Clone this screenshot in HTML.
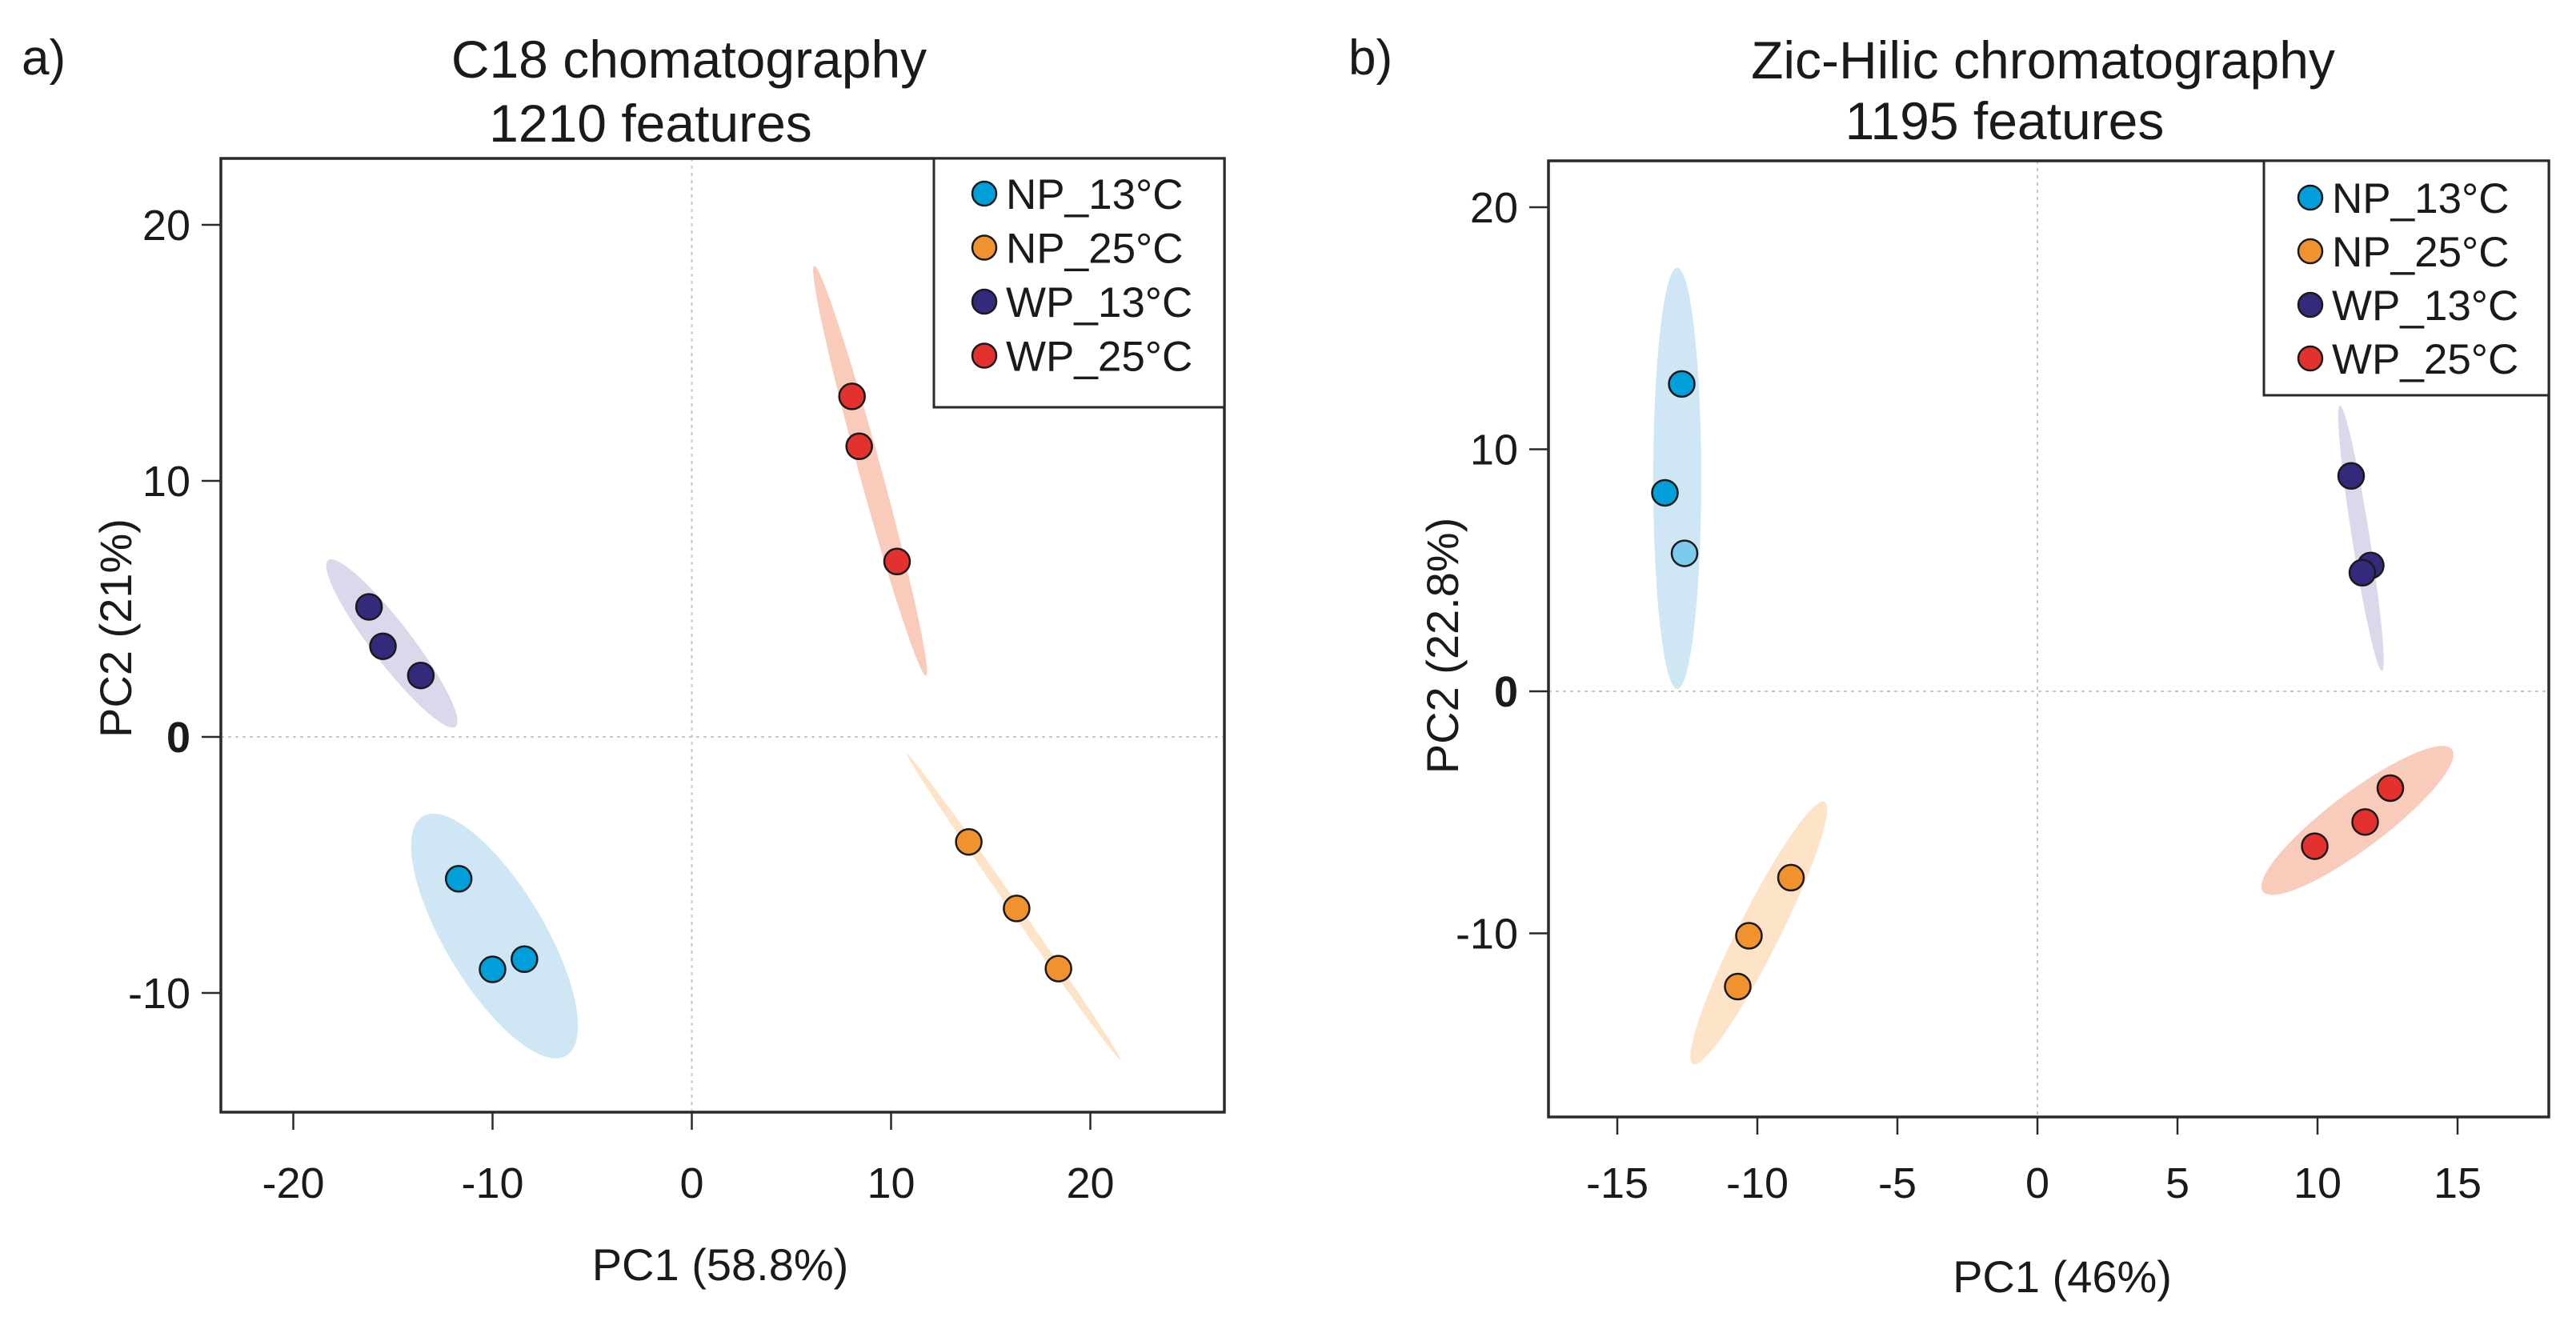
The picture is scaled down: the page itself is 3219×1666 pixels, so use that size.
<!DOCTYPE html>
<html><head><meta charset="utf-8"><style>
html,body{margin:0;padding:0;background:#fff;}
svg{display:block;font-family:"Liberation Sans",Arial,sans-serif;}
</style></head>
<body>
<svg id="fig" width="3219" height="1666" viewBox="0 0 3219 1666" xmlns="http://www.w3.org/2000/svg"></svg>
<script>
// ---- Data: panel a (C18) ----
const groups = ["NP_13°C","NP_25°C","WP_13°C","WP_25°C"];
const aNP13x = [-11.7, -10.0, -8.4];   const aNP13y = [-5.54, -9.08, -8.68];
const aNP25x = [13.9, 16.3, 18.4];     const aNP25y = [-4.1, -6.7, -9.05];
const aWP13x = [-16.2, -15.5, -13.6];  const aWP13y = [5.08, 3.54, 2.4];
const aWP25x = [8.04, 8.4, 10.3];      const aWP25y = [13.3, 11.35, 6.85];
// ellipse major-axis endpoints (data units): x1,y1,x2,y2
const aEllNP13 = [-13.5, -3.1, -6.3, -12.45];
const aEllNP25 = [10.8, -0.67, 21.5, -12.6];
const aEllWP13 = [-18.25, 6.9, -11.86, 0.4];
const aEllWP25 = [6.14, 18.4, 11.75, 2.4];
const aXTicks = [-20, -10, 0, 10, 20];
const aYTicks = [-10, 0, 10, 20];
// ---- Data: panel b (Zic-Hilic) ----
const bNP13x = [-12.7, -13.3, -12.6];  const bNP13y = [12.7, 8.2, 5.7];
const bNP25x = [-8.8, -10.3, -10.7];   const bNP25y = [-7.7, -10.1, -12.2];
const bWP13x = [11.2, 11.9, 11.6];     const bWP13y = [8.9, 5.2, 4.9];
const bWP25x = [12.6, 11.7, 9.9];      const bWP25y = [-4.0, -5.4, -6.4];
const bEllNP13 = [-12.86, 17.5, -12.86, 0.1];
const bEllNP25 = [-7.6, -4.56, -12.3, -15.4];
const bEllWP13 = [10.8, 11.8, 12.3, 0.84];
const bEllWP25 = [14.8, -2.4, 8.05, -8.27];
const bXTicks = [-15, -10, -5, 0, 5, 10, 15];
const bYTicks = [-10, 0, 10, 20];

const colors = ["#009fda","#f0922e","#332a7c","#e3312d"];
const fills  = ["#cfe7f5","#fde3c8","#dcd7ea","#f9cbbb"];
const NS = "http://www.w3.org/2000/svg";
const svg = document.getElementById("fig");
function mk(tag, attrs, parent, text){
  const e = document.createElementNS(NS, tag);
  for (const k in attrs) e.setAttribute(k, attrs[k]);
  if (text !== undefined) e.textContent = text;
  (parent||svg).appendChild(e);
  return e;
}

function panel(cfg){
  const g = mk("g", {});
  
  
  const sx = v => cfg.x0 + v*cfg.kx;
  const sy = v => cfg.y0 - v*cfg.ky;
  const vl = mk("line",{x1:sx(0),x2:sx(0),y1:cfg.top,y2:cfg.bottom,stroke:"#c8c8c8","stroke-width":2,"stroke-dasharray":"4,5"},g);
  
  
  const hl = mk("line",{x1:cfg.left,x2:cfg.right,y1:sy(0),y2:sy(0),stroke:"#c8c8c8","stroke-width":2,"stroke-dasharray":"4,5"},g);
  
  
  cfg.ells.forEach((el,i)=>{
    const x1=sx(el[0]), y1=sy(el[1]), x2=sx(el[2]), y2=sy(el[3]);
    const cx=(x1+x2)/2, cy=(y1+y2)/2;
    const rx=Math.hypot(x2-x1,y2-y1)/2;
    const ang=Math.atan2(y2-y1,x2-x1)*180/Math.PI;
    const e = mk("ellipse",{cx:cx,cy:cy,rx:rx,ry:cfg.ellW[i],fill:fills[i],transform:`rotate(${ang} ${cx} ${cy})`},g);
    
    
  });
  cfg.pts.forEach((p,i)=>{
    p[0].forEach((xv,j)=>{
      let col = colors[i];
      if (cfg.lightFirst && i===0 && j===2) col = "#7ccbed";
      const c = mk("circle",{cx:sx(xv),cy:sy(p[1][j]),r:16,fill:col,stroke:"#1a1a1a","stroke-width":2.5},g);
      
      
    });
  });
  const bx = mk("rect",{x:cfg.left,y:cfg.top,width:cfg.right-cfg.left,height:cfg.bottom-cfg.top,fill:"none",stroke:"#2a2a2a","stroke-width":3.5},g);
  
  
  cfg.xt.forEach(t=>{
    const tk = mk("line",{x1:sx(t),x2:sx(t),y1:cfg.bottom,y2:cfg.bottom+22,stroke:"#2a2a2a","stroke-width":2.5},g);
    
    
    const tl = mk("text",{x:sx(t),y:cfg.xtlY,"font-size":54,"text-anchor":"middle",fill:"#1a1a1a"},g,String(t));
    
    
  });
  cfg.yt.forEach(t=>{
    const tk = mk("line",{x1:cfg.left-24,x2:cfg.left,y1:sy(t),y2:sy(t),stroke:"#2a2a2a","stroke-width":2.5},g);
    
    
    const tl = mk("text",{x:cfg.left-38,y:sy(t)+19,"font-size":54,"text-anchor":"end",fill:"#1a1a1a","font-weight":t===0?"bold":"normal"},g,String(t));
    
    
  });
  const xt = mk("text",{x:cfg.xlabX,y:cfg.xlabY,"font-size":56,"text-anchor":"middle",fill:"#1a1a1a"},g,cfg.xlab);
  
  
  const yt = mk("text",{x:0,y:0,"font-size":56,"text-anchor":"middle",fill:"#1a1a1a",transform:`translate(${cfg.ylabX} ${cfg.ylabY}) rotate(-90)`},g,cfg.ylab);
  
  
  const t1 = mk("text",{x:cfg.t1x,y:cfg.t1y,"font-size":66,"text-anchor":"middle",fill:"#1a1a1a"},g,cfg.t1);
  
  
  const t2 = mk("text",{x:cfg.t2x,y:cfg.t2y,"font-size":66,"text-anchor":"middle",fill:"#1a1a1a"},g,cfg.t2);
  
  
  const pl = mk("text",{x:cfg.plx,y:cfg.ply,"font-size":62,fill:"#1a1a1a"},g,cfg.pl);
  
  
  const lg = mk("g",{},g);
  
  
  const lr = mk("rect",{x:cfg.lgL,y:cfg.top,width:cfg.right-cfg.lgL,height:cfg.lgB-cfg.top,fill:"#fff",stroke:"#2a2a2a","stroke-width":3},lg);
  
  
  groups.forEach((n,i)=>{
    const yy = cfg.lgY0 + i*cfg.lgDy;
    const eg = mk("g",{},lg);
    
    
    mk("circle",{cx:cfg.lgCx,cy:yy,r:15,fill:colors[i],stroke:"#1a1a1a","stroke-width":2.5},eg);
    mk("text",{x:cfg.lgCx+27,y:yy+19,"font-size":53,fill:"#1a1a1a"},eg,n);
  });
}

panel({name:"panel-a-c18", left:276,right:1530,top:198,bottom:1390,x0:864.5,kx:24.9,y0:921,ky:32,
  ells:[aEllNP13,aEllNP25,aEllWP13,aEllWP25], ellW:[62,6,25,14],
  pts:[[aNP13x,aNP13y],[aNP25x,aNP25y],[aWP13x,aWP13y],[aWP25x,aWP25y]], lightFirst:false,
  xt:aXTicks, yt:aYTicks, xtlY:1497, xlab:"PC1 (58.8%)", xlabX:900, xlabY:1600, ylab:"PC2 (21%)", ylabX:164, ylabY:785,
  t1:"C18 chomatography", t1x:861, t1y:97, t2:"1210 features", t2x:813, t2y:177, pl:"a)", plx:27, ply:93,
  lgL:1167, lgB:509, lgY0:242, lgDy:67.5, lgCx:1230});

panel({name:"panel-b-zic-hilic", left:1935,right:3185,top:201,bottom:1396,x0:2546,kx:35,y0:864,ky:30.25,
  ells:[bEllNP13,bEllNP25,bEllWP13,bEllWP25], ellW:[30,26,11,35],
  pts:[[bNP13x,bNP13y],[bNP25x,bNP25y],[bWP13x,bWP13y],[bWP25x,bWP25y]], lightFirst:true,
  xt:bXTicks, yt:bYTicks, xtlY:1497, xlab:"PC1 (46%)", xlabX:2577, xlabY:1615, ylab:"PC2 (22.8%)", ylabX:1822, ylabY:807,
  t1:"Zic-Hilic chromatography", t1x:2553, t1y:98, t2:"1195 features", t2x:2505, t2y:174, pl:"b)", plx:1685, ply:93,
  lgL:2829, lgB:494, lgY0:247, lgDy:67, lgCx:2887});
</script>
</body></html>
